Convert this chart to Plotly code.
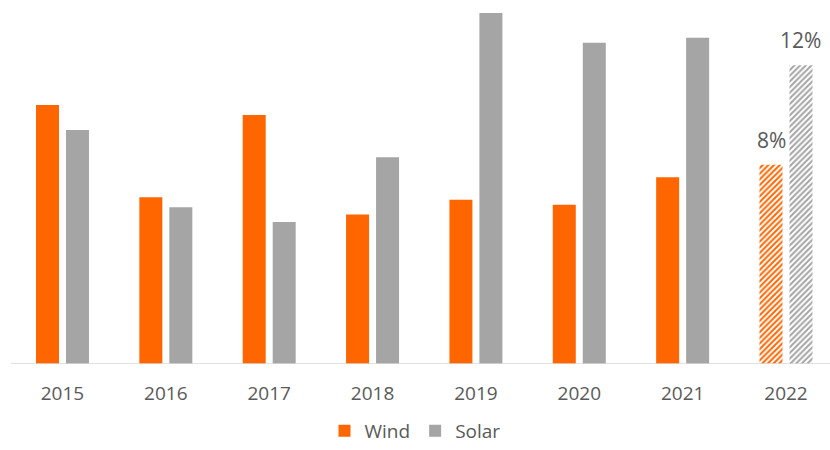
import plotly.graph_objects as go

years = ["2015", "2016", "2017", "2018", "2019", "2020", "2021", "2022"]
wind = [10.4, 6.7, 10.0, 6.0, 6.6, 6.4, 7.5, 8]
solar = [9.4, 6.3, 5.7, 8.3, 14.1, 12.9, 13.1, 12]
# last year is a forecast, drawn hatched
patterns = ["", "", "", "", "", "", "", "/"]

ORANGE = "#FF6600"
GREY = "#A5A5A5"
TEXT = "#595959"

idx = list(range(len(years)))
off = 0.145
bw = 0.2225

fig = go.Figure()
fig.add_bar(
    name="Wind", x=[i - off for i in idx], y=wind, width=bw,
    marker=dict(color=ORANGE, line=dict(width=0),
                pattern=dict(shape=patterns, fgcolor=ORANGE, bgcolor="white",
                             size=4, solidity=0.5, fillmode="replace")),
)
fig.add_bar(
    name="Solar", x=[i + off for i in idx], y=solar, width=bw,
    marker=dict(color=GREY, line=dict(width=0),
                pattern=dict(shape=patterns, fgcolor=GREY, bgcolor="white",
                             size=4, solidity=0.5, fillmode="replace")),
)

# value labels on the forecast bars
last = len(years) - 1
for xv, yv in ((last - off, wind[last]), (last + off, solar[last])):
    fig.add_annotation(x=xv, y=yv, text=f"{yv:g}%", showarrow=False,
                       yanchor="bottom", yshift=9,
                       font=dict(size=21, color=TEXT))

# baseline
fig.add_shape(type="line", xref="x", yref="y", x0=-0.5, x1=len(years) - 0.5,
              y0=0, y1=0, line=dict(color="#D9D9D9", width=1.5))

fig.update_layout(
    width=830, height=450,
    margin=dict(l=0, r=0, t=0, b=86),
    paper_bgcolor="white", plot_bgcolor="white",
    barmode="overlay",
    font=dict(family="Open Sans", color=TEXT, size=19),
    showlegend=True,
    legend=dict(orientation="h", x=0.5, xanchor="center",
                yref="container", y=0.0, yanchor="bottom",
                font=dict(size=19, color=TEXT),
                itemwidth=30, tracegroupgap=0),
    xaxis=dict(range=[-0.6045, 7.4257], tickmode="array", tickvals=idx,
               ticktext=years, showgrid=False, zeroline=False,
               showline=False, ticks="outside", ticklen=12,
               tickcolor="rgba(0,0,0,0)", tickfont=dict(size=19, color=TEXT)),
    yaxis=dict(range=[0, 14.62], visible=False),
)

fig.write_html("out.html")
